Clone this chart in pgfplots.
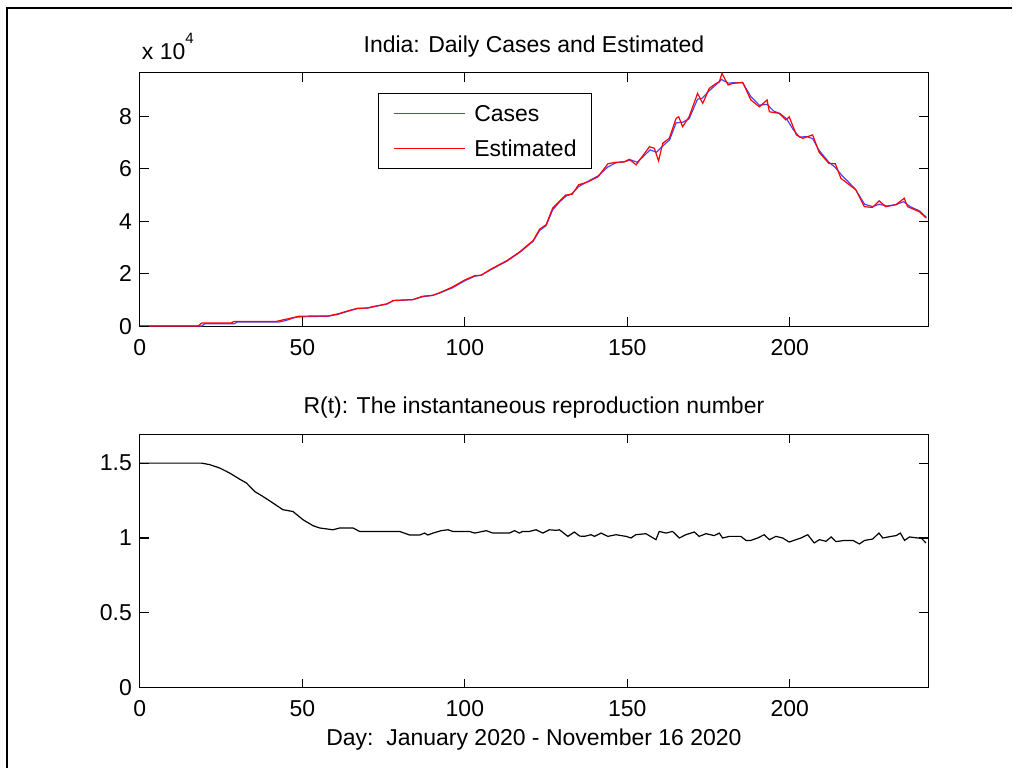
\documentclass[border=0pt]{standalone}
\usepackage{fontspec}
\setmainfont{Liberation Sans}
\usepackage{pgfplots}
\pgfplotsset{compat=1.18}
\definecolor{caseblue}{RGB}{70,70,255}
\tikzset{mtick/.style={black, line width=0.6pt}}

\pgfplotstableread{
day est
0 200
18 200
19 1300
28 1300
29 1900
42 1900
44 2500
47 3300
49 3900
58 4000
61 4800
64 5900
67 6900
70 7000
72 7600
76 8600
78 9900
84 10200
87 11500
90 11800
92 12700
96 14900
100 17700
103 19300
105 19500
108 21800
113 25100
117 28500
121 32700
123 37000
125 38700
127 45000
129 47500
131 50000
133 50300
135 53900
138 55100
141 57000
144 61900
146.5 62500
149 62600
150.6 63600
152.7 61500
156.8 68400
158.3 67800
159.6 63000
160.9 69700
162.9 71600
165 79200
165.8 79800
167 76000
169 79800
171.6 88700
173.2 84900
175.2 90600
177.3 92500
178.3 93100
179.1 96300
181 91900
182.4 92500
185.5 92900
188 86200
190.6 83600
193 86200
193.7 81700
196.7 81100
198.8 78600
199.8 79800
202 72900
204 71600
207 72900
209 66300
212 62100
214 61900
215.7 56400
220.3 52000
222.9 45600
225.4 45300
227.5 47800
229.5 45600
232.6 46300
235.2 48800
236.2 45600
239.8 43700
242 41200
}\esttable

\pgfplotstableread{
day cases
0 150
19 150
20 1000
29 1000
30 1700
43 1700
45 2300
48 3500
50 3700
58 3900
61 4600
64 5800
67 6800
70 7000
72 7500
76 8500
78 9800
84 10200
87 11300
90 11800
92 12600
96 14600
100 17400
103 19100
105 19500
108 21600
113 24900
117 28300
121 32400
123 36500
125 38400
127 44300
129 47200
131 49500
133 50600
135 53200
138 55300
141 57300
144 60700
146.5 62300
149 62700
151 63400
153 62500
155 64800
157 67200
159 66300
161 68800
163 71000
165 77500
167 77700
169 79000
171.6 86500
173 86800
175 89500
177.3 92000
179 94000
181 92600
183 92800
185.5 92700
188 87500
190.6 84200
193 84500
195 82000
197 81000
199 79000
201 75000
203 72000
205 72300
207 71500
209 67000
212 62500
214 60500
216 57500
220 52500
223 46500
225.5 45600
227.5 46500
230 45800
233 46500
235 47500
237 45600
240 43900
242 41500
}\casestable

\pgfplotstableread{
day R
0 1.5
19 1.5
21.5 1.49
24.6 1.467
27.7 1.433
30.7 1.393
32.8 1.367
35.3 1.311
37.9 1.277
41 1.233
44 1.189
47.1 1.177
50.2 1.122
53.3 1.082
55.3 1.067
59.4 1.055
61.5 1.067
65.6 1.067
67.6 1.044
79.9 1.044
83 1.02
86.1 1.02
87.6 1.033
88.6 1.02
90.2 1.033
92.7 1.049
94.8 1.055
96.3 1.044
101.4 1.044
103 1.033
106.6 1.049
108.6 1.033
113.7 1.033
115.3 1.049
116.8 1.033
117.8 1.044
119.9 1.044
121.9 1.055
124 1.033
126 1.055
128.1 1.051
129.1 1.055
131.7 1.011
133.7 1.04
135.3 1.013
136.8 1.011
138.8 1.022
139.9 1.011
141.9 1.033
144 1.011
146.5 1.022
149.6 1.011
151.1 1.0
152.6 1.022
155.7 1.029
158.8 0.989
159.8 1.044
161.9 1.033
163.9 1.044
166 1.0
168 1.022
170.6 1.04
172.1 1.011
174.2 1.029
176.7 1.016
178.3 1.033
179.3 1.0
181.4 1.011
184.9 1.011
186.5 0.984
188 0.984
190.1 1.0
192.1 1.022
193.7 0.989
195.7 1.011
197.8 1.0
199.8 0.973
201.9 0.989
203.4 1.0
205.5 1.022
207.5 0.967
209.1 0.989
211.1 0.978
212.7 1.007
214.2 0.976
216.8 0.984
219.4 0.984
221.4 0.96
223 0.984
225.5 0.993
227.4 1.033
228.6 1.0
231.2 1.011
232.7 1.016
234 1.033
235.3 0.984
236.8 1.007
239.4 1.0
240.4 1.0
241.9 0.967
}\rtable

\pgfplotsset{
  matlab/.style={
    scale only axis,
    width=394.35pt, height=127pt,
    xmin=0, xmax=242.5,
    xtick={0,50,100,150,200},
    tickwidth=4.5pt,
    every tick/.style={black, line width=0.6pt},
    ticklabel style={font=\fontsize{11.5}{13.8}\selectfont},
    label style={font=\fontsize{11.5}{13.8}\selectfont},
    title style={font=\fontsize{11.5}{13.8}\selectfont, at={(axis description cs:0.5,1)}, anchor=base, yshift=4.2pt, inner sep=0pt},
    /pgf/number format/assume math mode=true,
    xticklabel style={yshift=-2.4pt},
    scaled y ticks=false,
  },
}

\begin{document}
\fontsize{11.5}{13.8}\selectfont
\begin{tikzpicture}
\path (0pt,0pt) rectangle (506.5pt,384.5pt);
\draw[line width=0.8pt] (3.5pt,0pt) -- (3.5pt,380.5pt) -- (506.5pt,380.5pt);

\begin{axis}[matlab,
  at={(70pt,221.15pt)}, anchor=south west,
  ymin=0, ymax=96600,
  ytick={0,20000,40000,60000,80000},
  yticklabels={0,2,4,6,8},
  title={India: Daily Cases and Estimated},
  legend style={at={(0.3018,0.9213)}, anchor=north west, draw=black, line width=0.5pt, fill=white,
    inner xsep=7.35pt, inner ysep=6.1pt, row sep=9.3pt,
    nodes={inner sep=0pt, text height=8.2pt, text depth=0pt},
    /tikz/every odd column/.append style={column sep=4.15pt},
    font=\fontsize{11.5}{13.8}\selectfont},
  legend cell align=left,
  legend image code/.code={\draw[#1] (0pt,0pt) -- (36pt,0pt);},
]
\addplot[caseblue, line width=0.6pt] table[x=day, y=cases] {\casestable};
\addlegendentry{Cases}
\addplot[red, line width=0.6pt] table[x=day, y=est] {\esttable};
\addlegendentry{Estimated}
\pgfplotsinvokeforeach{0,50,100,150,200}{
  \draw[mtick] (axis cs:#1,0) -- ++(0pt,4.5pt);
  \draw[mtick] (axis cs:#1,96600) -- ++(0pt,-4.5pt);
}
\pgfplotsinvokeforeach{0,20000,40000,60000,80000}{
  \draw[mtick] (axis cs:0,#1) -- ++(4.5pt,0pt);
  \draw[mtick] (axis cs:242.5,#1) -- ++(-4.5pt,0pt);
}
\end{axis}
\node[anchor=base west, inner sep=0pt] at (70.85pt,354.5pt)
  {x 10\raisebox{8.3pt}{\fontsize{7.5}{8}\selectfont 4}};

\begin{axis}[matlab,
  at={(70pt,40.35pt)}, anchor=south west,
  ymin=0, ymax=1.695,
  ytick={0,0.5,1,1.5},
  yticklabels={0,0.5,1,1.5},
  title={R(t): The instantaneous reproduction number},
  xlabel={Day:\ \ January 2020 - November 16 2020},
  xlabel style={at={(axis description cs:0.5,0)}, anchor=base, yshift=-28.7pt, inner sep=0pt},
]
\addplot[black, line width=0.6pt] table[x=day, y=R] {\rtable};
\pgfplotsinvokeforeach{0,50,100,150,200}{
  \draw[mtick] (axis cs:#1,0) -- ++(0pt,4.5pt);
  \draw[mtick] (axis cs:#1,1.695) -- ++(0pt,-4.5pt);
}
\pgfplotsinvokeforeach{0,0.5,1,1.5}{
  \draw[mtick] (axis cs:0,#1) -- ++(4.5pt,0pt);
  \draw[mtick] (axis cs:242.5,#1) -- ++(-4.5pt,0pt);
}
\end{axis}
\end{tikzpicture}
\end{document}
